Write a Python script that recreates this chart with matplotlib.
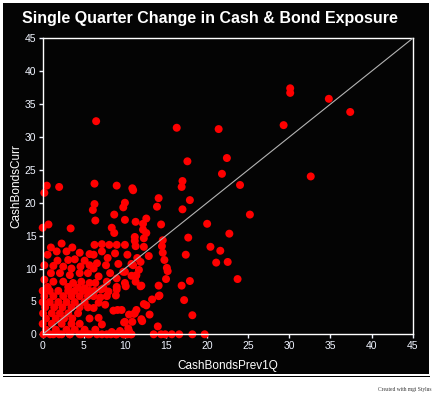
import matplotlib.pyplot as plt
from matplotlib.patches import Rectangle

# CashBondsPrev1Q (x) and CashBondsCurr (y)
prev_q = [
    6.5, 16.3, 21.4, 30.1, 30.1, 29.3, 34.8, 37.4, 32.6, 17.6, 22.4, 21.8, 24.0, 17.0, 16.9,
    6.3, 9.0, 10.9, 11.0, 2.0, 0.5, 0.2, 14.1, 17.9,
    13.9, 17.0, 25.2, 12.6, 12.2, 14.4, 20.0, 12.6, 22.7, 12.3, 14.6, 17.7, 12.3, 14.5, 20.4,
    21.6, 12.9, 14.6, 17.4, 14.8, 21.1, 22.5, 15.1, 15.2, 15.0, 17.9, 16.9, 23.7, 14.1, 12.0,
    14.2, 13.3, 17.2, 12.6, 13.0, 18.2, 12.0, 14.0,
    13.5, 14.4, 14.9, 15.7, 16.6, 18.2, 19.7,
    6.3, 10.0, 6.1, 9.8, 8.7, 6.4, 10.0, 11.3, 0.7, 0.0, 3.4, 8.4, 8.7, 11.2, 12.2, 11.2,
    1.0, 2.3, 3.6, 1.7, 2.9, 0.6, 4.5, 5.7, 1.8, 3.1, 3.9, 5.1, 0.2, 1.3, 2.5, 3.5, 4.6, 5.7,
    1.0, 2.1, 3.3, 4.5, 5.5, 0.2, 1.3, 2.5, 3.7, 4.7, 5.7, 0.6, 3.1, 4.3, 5.1,
    6.3, 7.2, 8.1, 9.0, 10.0, 11.3, 7.2, 8.8, 10.3, 6.2, 7.9, 11.5, 6.6, 7.7, 9.2, 10.8, 11.9,
    6.2, 8.2, 10.0, 11.7, 6.8, 9.0, 10.8, 6.4, 7.8, 10.0, 11.3, 7.4, 9.0,
    0.0, 0.85, 1.9, 3.1, 3.9, 4.9, 5.7, 0.2, 1.3, 2.5, 3.5, 4.5, 5.5,
    0.0, 0.85, 1.9, 2.9, 3.9, 5.1, 0.3, 1.4, 2.4, 3.5, 4.5, 5.5,
    0.05, 1.1, 2.1, 3.1, 4.3, 0.4, 1.6, 2.6, 3.6, 5.7, 0.0, 1.1, 2.3, 3.5, 4.5,
    0.4, 1.6, 2.9, 3.9, 5.1, 0.1, 1.3, 2.3, 3.3, 4.7, 5.7,
    6.3, 7.1, 8.0, 9.0, 6.2, 7.0, 7.8, 8.9, 6.8, 7.6, 8.6, 9.6, 12.3, 11.1, 6.2,
    10.0, 10.9, 12.1, 6.8, 7.2, 6.4, 8.4, 9.4, 10.5,
    6.6, 7.8, 9.0, 9.8, 10.7,
    0.9, 2.0, 3.3, 4.5, 5.5, 7.2, 8.3, 8.9, 9.9, 10.3, 10.8,
    9.9, 10.4, 11.9, 11.3, 11.2, 10.5, 11.4, 9.1, 9.8, 10.1, 11.0, 11.4, 14.1,
]
curr_q = [
    32.4, 31.4, 31.2, 37.4, 36.7, 31.8, 35.8, 33.8, 24.0, 26.3, 26.8, 24.4, 22.7, 23.3, 22.4,
    22.9, 22.6, 22.2, 21.9, 22.4, 22.6, 21.5, 20.7, 20.4,
    19.4, 19.0, 18.2, 17.6, 16.8, 16.7, 16.8, 15.4, 15.3, 14.6, 14.3, 14.7, 13.3, 13.4, 13.3,
    12.7, 11.9, 12.4, 12.1, 11.3, 10.9, 11.0, 10.1, 9.6, 8.4, 8.1, 7.4, 8.4, 7.4, 7.4,
    5.9, 5.3, 5.2, 4.4, 3.0, 2.9, 2.3, 1.2,
    0.0, 0.0, 0.0, 0.0, 0.0, 0.0, 0.0,
    19.8, 20.0, 18.9, 19.3, 18.2, 17.3, 17.4, 17.1, 16.7, 16.2, 16.1, 16.2, 15.4, 14.8, 15.9, 14.2,
    13.2, 13.8, 13.2, 12.6, 12.6, 12.1, 12.4, 12.2, 11.2, 11.3, 11.4, 11.2, 10.5, 10.4, 10.3, 10.0, 10.3, 10.5,
    9.3, 9.3, 9.0, 9.3, 9.3, 8.3, 8.0, 8.0, 7.8, 8.0, 7.8, 7.2, 7.2, 7.1, 7.0,
    13.6, 13.7, 13.6, 13.6, 13.6, 13.4, 12.6, 12.3, 12.1, 12.1, 11.6, 11.6, 10.8, 10.5, 10.7, 10.7, 11.0,
    10.0, 9.3, 9.5, 9.8, 8.8, 8.5, 8.9, 7.8, 8.0, 7.8, 8.0, 7.0, 7.2,
    6.6, 6.6, 6.6, 6.6, 6.6, 6.6, 6.6, 5.8, 5.8, 5.8, 5.8, 5.8, 5.8,
    4.9, 4.9, 4.9, 4.9, 4.9, 4.9, 4.1, 4.1, 4.1, 4.1, 4.1, 4.1,
    3.2, 3.2, 3.2, 3.2, 3.2, 2.4, 2.4, 2.4, 2.4, 2.4, 1.6, 1.6, 1.6, 1.6, 1.6,
    0.7, 0.7, 0.7, 0.7, 0.7, 0.0, 0.0, 0.0, 0.0, 0.0, 0.0,
    6.6, 6.8, 6.5, 6.8, 5.8, 5.6, 5.8, 5.9, 4.8, 4.5, 3.6, 3.7, 4.6, 3.1, 4.0,
    1.9, 1.9, 2.0, 2.5, 1.5, 0.7, 0.35, 0.5, 0.5,
    0.0, 0.0, 0.0, 0.0, 0.0,
    0.0, 0.0, 0.0, 0.0, 0.0, 0.0, 0.0, 0.0, 0.0, 0.0, 0.0,
    1.8, 0.9, 7.3, 8.8, 3.2, 3.0, 3.7, 3.7, 9.5, 7.3, 10.5, 9.0, 5.8,
]
ticks = [0, 5, 10, 15, 20, 25, 30, 35, 40, 45]

W, H = 433, 399
fig = plt.figure(figsize=(W / 100, H / 100), dpi=100)
fig.patch.set_facecolor('white')

# black panel and the thin rule under it
fig.patches.append(Rectangle((3 / W, 1 - 374 / H), 426 / W, 371 / H,
                             transform=fig.transFigure, facecolor='#040404',
                             edgecolor='none', zorder=-5))
fig.patches.append(Rectangle((3 / W, 1 - 377 / H), 427 / W, 1.5 / H,
                             transform=fig.transFigure, facecolor='black',
                             edgecolor='none', zorder=-5))

ax = fig.add_axes([42.7 / W, 1 - 334.3 / H, 370 / W, 296 / H])
ax.set_facecolor('#040404')
ax.scatter(prev_q, curr_q, s=33, color='#ff0000', edgecolors='none', zorder=2, clip_on=False)
ax.plot([0, 45], [0, 45], color='#b4b4b4', lw=0.8, zorder=3)

ax.set_xlim(0, 45)
ax.set_ylim(0, 45)
ax.set_xticks(ticks)
ax.set_yticks(ticks)
for s in ax.spines.values():
    s.set_color('white')
    s.set_linewidth(1.0)
ax.tick_params(colors='#f0f4ff', length=3, width=1, labelsize=7.5, pad=1.5)
for lbl in ax.get_xticklabels() + ax.get_yticklabels():
    lbl.set_family('Liberation Sans')

ax.set_xlabel('CashBondsPrev1Q', color='white', fontsize=8.5, family='Liberation Sans', labelpad=7)
ax.set_ylabel('CashBondsCurr', color='white', fontsize=8.5, family='Liberation Sans', labelpad=2)

fig.text(210 / W, 1 - 19 / H, 'Single Quarter Change in Cash & Bond Exposure', color='white',
         fontsize=11.5, fontweight='bold', family='Liberation Sans', ha='center', va='center')
fig.text(431 / W, 1 - 389 / H, 'Created with mgi Stylus', color='#333333', fontsize=4,
         family='Liberation Serif', ha='right', va='center')

fig.savefig('out.png', dpi=100, facecolor='white')
